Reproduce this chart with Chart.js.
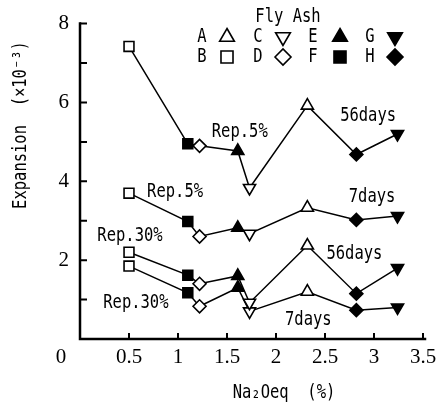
<!DOCTYPE html>
<html>
<head>
<meta charset="utf-8">
<script src="https://cdn.jsdelivr.net/npm/chart.js@4.4.1/dist/chart.umd.min.js"></script>
<style>
  html, body { margin: 0; padding: 0; background: #fff; }
  #wrap { width: 447px; height: 406px; }
</style>
</head>
<body>
<div id="wrap"><canvas id="c" width="447" height="406"></canvas></div>
<script>
// Fly ash samples, ordered by alkali content (Na2Oeq, %)
const flyAsh = ['B', 'F', 'D', 'E', 'C', 'A', 'H', 'G'];
const na2oEq = [0.50, 1.10, 1.22, 1.61, 1.73, 2.32, 2.82, 3.24];

// Expansion (x10^-3) for each replacement ratio and age
const exp56Rep5  = [7.42, 4.95, 4.90, 4.77, 3.83, 5.92, 4.68, 5.20];
const exp7Rep5   = [3.70, 2.98, 2.60, 2.82, 2.67, 3.33, 3.02, 3.12];
const exp56Rep30 = [2.20, 1.62, 1.40, 1.60, 0.92, 2.37, 1.15, 1.80];
const exp7Rep30  = [1.85, 1.17, 0.83, 1.30, 0.70, 1.20, 0.73, 0.80];

// Axis ticks
const xTickValues = [0.5, 1, 1.5, 2, 2.5, 3, 3.5];
const yTickLabels = [2, 4, 6, 8];

// Legend rows
const legendRows = [['A', 'C', 'E', 'G'], ['B', 'D', 'F', 'H']];

// Curve labels, placed in data units
const noteText = ['Rep.5%', '56days', 'Rep.5%', '7days', 'Rep.30%', '56days', 'Rep.30%', '7days'];
const noteX    = [1.63, 2.94, 0.97, 2.98, 0.51, 2.80, 0.57, 2.33];
const noteY    = [5.26, 5.66, 3.73, 3.61, 2.61, 2.16, 0.90, 0.48];

// Marker look for each fly ash
const markerStyle = {
  A: { style: 'triangle', rot: 0,   filled: false },
  B: { style: 'rect',     rot: 0,   filled: false },
  C: { style: 'triangle', rot: 180, filled: false },
  D: { style: 'rectRot',  rot: 0,   filled: false },
  E: { style: 'triangle', rot: 0,   filled: true },
  F: { style: 'rect',     rot: 0,   filled: true },
  G: { style: 'triangle', rot: 180, filled: true },
  H: { style: 'rectRot',  rot: 0,   filled: true }
};
const radiusFor = { triangle: 7, rect: 7, rectRot: 6.5 };

const MONO = '"DejaVu Sans Mono", "Liberation Mono", monospace';
const SERIF = '"Liberation Serif", "DejaVu Serif", serif';

function makeDataset(values) {
  return {
    data: na2oEq.map((x, i) => ({ x: x, y: values[i] })),
    borderColor: '#000',
    borderWidth: 1.5,
    pointStyle: flyAsh.map(k => markerStyle[k].style),
    rotation: flyAsh.map(k => markerStyle[k].rot),
    pointRadius: flyAsh.map(k => radiusFor[markerStyle[k].style]),
    pointBackgroundColor: flyAsh.map(k => markerStyle[k].filled ? '#000' : '#fff'),
    pointBorderColor: '#000',
    pointBorderWidth: 1.6,
    tension: 0,
    fill: false,
    clip: false
  };
}

// Condensed monospace text, centred on (x, y)
function drawText(ctx, text, x, y, size, angle) {
  ctx.save();
  ctx.translate(x, y);
  if (angle) ctx.rotate(angle);
  ctx.scale(0.815, 1);
  ctx.font = size + 'px ' + MONO;
  ctx.fillStyle = '#000';
  ctx.textAlign = 'center';
  ctx.textBaseline = 'middle';
  ctx.fillText(text, 0, 0);
  ctx.restore();
}

const frame = {
  id: 'frame',
  beforeDatasetsDraw(chart) {
    const { ctx, chartArea: a, scales: { x, y } } = chart;
    ctx.save();
    ctx.strokeStyle = '#000';
    ctx.lineCap = 'square';
    ctx.lineWidth = 2.5;
    ctx.beginPath();
    ctx.moveTo(a.left, a.top);
    ctx.lineTo(a.left, a.bottom);
    ctx.lineTo(a.right + 2, a.bottom);
    ctx.stroke();
    // inward tick marks
    ctx.lineWidth = 2;
    ctx.lineCap = 'butt';
    ctx.beginPath();
    for (let v = 1; v <= 8; v++) {
      const py = y.getPixelForValue(v);
      ctx.moveTo(a.left, py);
      ctx.lineTo(a.left + 7, py);
    }
    xTickValues.forEach(v => {
      const px = x.getPixelForValue(v);
      ctx.moveTo(px, a.bottom);
      ctx.lineTo(px, a.bottom - 6);
    });
    ctx.stroke();
    ctx.restore();
  },
  afterDraw(chart) {
    const { ctx, chartArea: a, scales: { x, y } } = chart;
    // origin label
    ctx.save();
    ctx.font = '21px ' + SERIF;
    ctx.fillStyle = '#000';
    ctx.textAlign = 'center';
    ctx.textBaseline = 'middle';
    ctx.fillText('0', a.left - 19, a.bottom + 18);
    ctx.restore();

    // curve labels
    noteText.forEach((t, i) => {
      drawText(ctx, t, x.getPixelForValue(noteX[i]), y.getPixelForValue(noteY[i]), 19);
    });

    // axis titles
    drawText(ctx, 'Expansion  (\u00d710\u207b\u00b3)', 21, 125, 19, -Math.PI / 2);
    drawText(ctx, 'Na\u2082Oeq  (%)', 284, 393, 19);

    // legend
    drawText(ctx, 'Fly Ash', 288, 17, 19);
    const letterX = [202, 258, 313, 370];
    const markX = [227, 283, 340, 395];
    const rowY = [37, 57];
    legendRows.forEach((row, r) => {
      row.forEach((k, c) => {
        drawText(ctx, k, letterX[c], rowY[r], 19);
        const m = markerStyle[k];
        ctx.save();
        ctx.fillStyle = m.filled ? '#000' : '#fff';
        ctx.strokeStyle = '#000';
        ctx.lineWidth = 1.6;
        Chart.helpers.drawPoint(ctx, {
          pointStyle: m.style,
          rotation: m.rot,
          radius: m.style === 'rectRot' ? 8 : 8.5,
          borderWidth: 1.6
        }, markX[c], rowY[r]);
        ctx.restore();
      });
    });
  }
};

new Chart(document.getElementById('c'), {
  type: 'line',
  data: {
    datasets: [
      makeDataset(exp56Rep5),
      makeDataset(exp7Rep5),
      makeDataset(exp56Rep30),
      makeDataset(exp7Rep30)
    ]
  },
  options: {
    responsive: false,
    animation: false,
    layout: { padding: { top: 20, right: 24, left: 0, bottom: 0 } },
    plugins: { legend: { display: false }, tooltip: { enabled: false } },
    scales: {
      x: {
        type: 'linear',
        min: 0,
        max: 3.5,
        afterBuildTicks: s => { s.ticks = [0].concat(xTickValues).map(v => ({ value: v })); },
        afterFit: s => { s.height = 67; },
        grid: { display: false, drawTicks: false },
        border: { display: false },
        ticks: {
          autoSkip: false,
          maxRotation: 0,
          padding: 6,
          color: '#000',
          font: { family: SERIF, size: 21 },
          callback: v => (v === 0 ? '' : String(v))
        }
      },
      y: {
        min: 0,
        max: 8,
        afterFit: s => { s.width = 80; },
        grid: { display: false, drawTicks: false },
        border: { display: false },
        ticks: {
          stepSize: 1,
          padding: 11,
          color: '#000',
          font: { family: SERIF, size: 21 },
          callback: v => (yTickLabels.includes(v) ? String(v) : '')
        }
      }
    }
  },
  plugins: [frame]
});
</script>
</body>
</html>
